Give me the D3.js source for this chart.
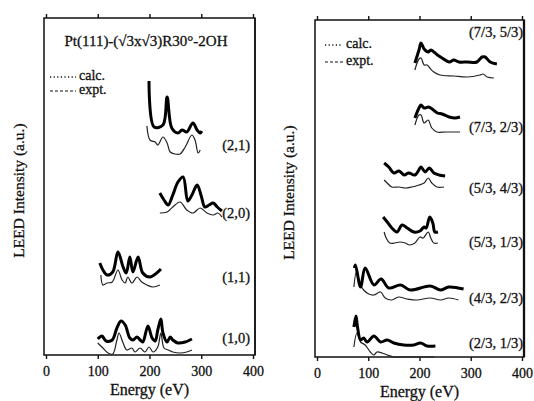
<!DOCTYPE html>
<html>
<head>
<meta charset="utf-8">
<script src="https://cdn.jsdelivr.net/npm/d3@7"></script>
<style>
  body { margin: 0; background: #fff; }
  text { font-family: "Liberation Serif", "DejaVu Serif", serif; fill: #111; stroke: #111; stroke-width: 0.3px; }
</style>
</head>
<body>
<div id="chart"></div>
<script>
// Energy ticks (eV)
const energyTicks = [0, 100, 200, 300, 400];

// Left panel: integer beams. thick = expt, thin = calc (stacked intensities, a.u.)
const b21E_expt = [199, 209, 226, 234, 243, 255, 263, 272, 284, 292, 298, 301];
const b21I_expt = [274, 228, 230, 258, 227, 222, 225, 223, 232, 225, 222, 224];
const b21E_calc = [195, 201, 211, 216, 226, 234, 240, 249, 259, 269, 282, 288, 294, 298];
const b21I_calc = [229, 215, 213, 210, 218, 212, 203, 201, 201, 208, 220, 215, 202, 205];

const b20E_expt = [220, 228, 236, 245, 255, 265, 274, 282, 292, 300, 307, 315, 323, 331, 340];
const b20I_expt = [162, 155, 150, 160, 173, 178, 154, 160, 170, 159, 148, 150, 152, 148, 144];
const b20E_calc = [220, 234, 245, 259, 272, 284, 298, 311, 323, 332, 340];
const b20I_calc = [142, 143, 148, 153, 145, 142, 147, 142, 140, 142, 138];

const b11E_expt = [104, 110, 118, 129, 139, 149, 155, 162, 168, 178, 187, 201, 214, 222];
const b11I_expt = [92, 85, 80, 83, 103, 88, 82, 98, 83, 98, 82, 78, 82, 86];
const b11E_calc = [106, 110, 118, 128, 139, 147, 153, 158, 166, 176, 185, 195, 207, 220];
const b11I_calc = [80, 70, 72, 73, 85, 75, 72, 78, 72, 78, 73, 70, 68, 70];

const b10E_expt = [100, 108, 116, 128, 137, 145, 153, 162, 168, 176, 182, 187, 197, 205, 211, 216, 222, 226, 234, 240, 245, 255, 269, 278, 282];
const b10I_expt = [16, 19, 14, 15, 27, 34, 30, 17, 15, 18, 15, 13, 29, 17, 14, 25, 36, 22, 13, 18, 15, 12, 13, 15, 16];
const b10E_calc = [100, 110, 120, 129, 137, 141, 149, 156, 166, 172, 182, 191, 199, 207, 216, 222, 228, 236, 245, 259, 272, 282];
const b10I_calc = [12, 7, 2, 1, 15, 22, 12, 5, 7, 3, 7, 3, 8, 3, 8, 22, 7, 5, 3, 2, 3, 5];

// Right panel: fractional-order beams
const f7353E_expt = [191, 199, 203, 209, 217, 222, 235, 244, 258, 267, 277, 293, 312, 322, 328, 338, 351];
const f7353I_expt = [294, 307, 314, 308, 305, 307, 302, 299, 295, 297, 295, 295, 295, 300, 300, 295, 293];
const f7353E_calc = [191, 199, 203, 209, 215, 220, 228, 240, 267, 293, 318, 324, 332, 345];
const f7353I_calc = [287, 298, 299, 292, 292, 289, 285, 282, 281, 280, 282, 283, 280, 279];

const f7323E_expt = [191, 199, 203, 209, 217, 222, 235, 244, 258, 269, 279];
const f7323I_expt = [239, 249, 252, 249, 250, 249, 244, 243, 240, 239, 240];
const f7323E_calc = [191, 199, 203, 209, 217, 224, 234, 251, 271, 279];
const f7323I_calc = [232, 242, 242, 234, 237, 229, 225, 225, 225, 225];

const f5343E_expt = [131, 140, 150, 160, 170, 179, 191, 201, 203, 211, 219, 228, 238, 250];
const f5343I_expt = [194, 190, 184, 186, 182, 184, 182, 189, 190, 185, 189, 184, 182, 181];
const f5343E_calc = [131, 137, 146, 160, 172, 185, 199, 209, 217, 224, 234, 248];
const f5343I_calc = [177, 174, 170, 170, 169, 170, 172, 174, 179, 174, 170, 170];

const f5313E_expt = [129, 137, 146, 156, 166, 176, 189, 201, 209, 213, 220, 226, 230, 236];
const f5313I_expt = [140, 135, 129, 125, 132, 129, 125, 126, 130, 129, 140, 134, 125, 125];
const f5313E_calc = [131, 135, 142, 152, 162, 172, 181, 191, 201, 207, 217, 222, 228, 236];
const f5313I_calc = [125, 119, 114, 114, 115, 114, 112, 114, 120, 119, 125, 119, 114, 114];

const f4323E_expt = [73, 75, 85, 94, 111, 125, 140, 163, 182, 221, 241, 257, 286];
const f4323I_expt = [89, 92, 70, 89, 72, 78, 69, 72, 67, 71, 67, 70, 68];
const f4323E_calc = [72, 77, 85, 91, 101, 111, 124, 133, 146, 159, 176, 195, 221, 241, 257, 276];
const f4323I_calc = [70, 85, 72, 67, 63, 62, 65, 59, 57, 60, 58, 57, 59, 57, 59, 57];

const f2313E_expt = [72, 76, 79, 85, 91, 98, 111, 124, 137, 150, 169, 189, 202, 215, 231];
const f2313I_expt = [30, 41, 30, 17, 19, 15, 21, 15, 17, 14, 12, 12, 14, 11, 11];
const f2313E_calc = [72, 78, 85, 94, 104, 111, 117, 127, 137, 150, 163, 228];
const f2313I_calc = [10, 24, 15, 12, 5, 2, 5, 4, 2, 0, 0, 0];

const leftBeams = ["(2,1)", "(2,0)", "(1,1)", "(1,0)"];
const rightBeams = ["(7/3, 5/3)", "(7/3, 2/3)", "(5/3, 4/3)", "(5/3, 1/3)", "(4/3, 2/3)", "(2/3, 1/3)"];

const width = 534, height = 401;

const svg = d3.select("#chart")
    .append("svg")
    .attr("width", width)
    .attr("height", height);

const pack = (E, I) => E.map((e, i) => ({ e: e, v: I[i] }));

const leftCurves = [
    [pack(b21E_expt, b21I_expt), pack(b21E_calc, b21I_calc)],
    [pack(b20E_expt, b20I_expt), pack(b20E_calc, b20I_calc)],
    [pack(b11E_expt, b11I_expt), pack(b11E_calc, b11I_calc)],
    [pack(b10E_expt, b10I_expt), pack(b10E_calc, b10I_calc)]
];
const rightCurves = [
    [pack(f7353E_expt, f7353I_expt), pack(f7353E_calc, f7353I_calc)],
    [pack(f7323E_expt, f7323I_expt), pack(f7323E_calc, f7323I_calc)],
    [pack(f5343E_expt, f5343I_expt), pack(f5343E_calc, f5343I_calc)],
    [pack(f5313E_expt, f5313I_expt), pack(f5313E_calc, f5313I_calc)],
    [pack(f4323E_expt, f4323I_expt), pack(f4323E_calc, f4323I_calc)],
    [pack(f2313E_expt, f2313I_expt), pack(f2313E_calc, f2313I_calc)]
];

// label heights in a.u. (layout only)
const leftLabelAt = [210, 142, 78, 17];
const rightLabelAt = [325, 230, 169, 115, 59, 14];

const drawPanel = (opt) => {
    const x = d3.scaleLinear().domain([0, 400]).range([opt.x0, opt.x1]);
    const y = d3.scaleLinear().domain([0, 337]).range([opt.bottom, opt.top]);
    const g = svg.append("g");

    // frame
    g.append("rect")
        .attr("x", opt.fx0).attr("y", opt.top)
        .attr("width", opt.fx1 - opt.fx0).attr("height", opt.bottom - opt.top)
        .attr("fill", "none").attr("stroke", "#111").attr("stroke-width", 1.5);
    g.append("line")
        .attr("x1", opt.fx1).attr("x2", opt.fx1)
        .attr("y1", opt.top).attr("y2", opt.bottom)
        .attr("stroke", "#111").attr("stroke-width", opt.rightW);

    const bottomAxis = g.append("g")
        .attr("transform", `translate(0, ${opt.bottom})`)
        .call(d3.axisBottom(x).tickValues(energyTicks).tickSize(4).tickPadding(7))
        .attr("font-family", null)
        .attr("font-size", null);
    bottomAxis.select(".domain").remove();
    bottomAxis.selectAll("text")
        .attr("font-size", 14)
        .attr("fill", "#111");
    bottomAxis.selectAll("line").attr("stroke", "#111").attr("stroke-width", 1.4);

    const topAxis = g.append("g")
        .attr("transform", `translate(0, ${opt.top})`)
        .call(d3.axisTop(x).tickValues(energyTicks).tickSize(4).tickFormat(""));
    topAxis.select(".domain").remove();
    topAxis.selectAll("line").attr("stroke", "#111").attr("stroke-width", 1.4);

    g.append("text")
        .attr("x", x(200)).attr("y", opt.bottom + 40)
        .attr("text-anchor", "middle")
        .attr("font-size", 16)
        .text("Energy (eV)");

    g.append("text")
        .attr("transform", `translate(${opt.ylabX}, ${(opt.top + opt.bottom) / 2 + 4}) rotate(-90)`)
        .attr("text-anchor", "middle")
        .attr("font-size", 15.5)
        .text("LEED Intensity (a.u.)");

    const line = d3.line()
        .x(d => x(d.e))
        .y(d => y(d.v))
        .curve(d3.curveCatmullRom);

    opt.curves.forEach((pair, i) => {
        g.append("path")
            .attr("d", line(pair[1]))
            .attr("fill", "none")
            .attr("stroke", "#222")
            .attr("stroke-width", 1.2);
        g.append("path")
            .attr("d", line(pair[0]))
            .attr("fill", "none")
            .attr("stroke", "#000")
            .attr("stroke-width", 3)
            .attr("stroke-linejoin", "round");
        g.append("text")
            .attr("x", opt.labelX)
            .attr("y", y(opt.labelAt[i]) + 5)
            .attr("text-anchor", "end")
            .attr("font-size", 14.5)
            .text(opt.names[i]);
    });

    // legend
    const lg = opt.legend;
    g.append("line")
        .attr("x1", lg.x).attr("x2", lg.x + lg.w)
        .attr("y1", lg.y).attr("y2", lg.y)
        .attr("stroke", "#111").attr("stroke-width", 1.4)
        .attr("stroke-dasharray", "1.2 2.4");
    g.append("text")
        .attr("x", lg.x + lg.w + 3).attr("y", lg.y + 3)
        .attr("font-size", 14)
        .text("calc.");
    g.append("line")
        .attr("x1", lg.x).attr("x2", lg.x + lg.w)
        .attr("y1", lg.y + lg.gap).attr("y2", lg.y + lg.gap)
        .attr("stroke", "#111").attr("stroke-width", 1.2)
        .attr("stroke-dasharray", "3 2");
    g.append("text")
        .attr("x", lg.x + lg.w + 3).attr("y", lg.y + lg.gap + 3)
        .attr("font-size", 14)
        .text("expt.");
};

drawPanel({
    x0: 46, x1: 253, fx0: 44, fx1: 255, top: 18, bottom: 355, rightW: 1.5,
    ylabX: 24, labelX: 250, curves: leftCurves, names: leftBeams, labelAt: leftLabelAt,
    legend: { x: 50, y: 77, w: 26, gap: 14 }
});

drawPanel({
    x0: 317, x1: 522, fx0: 315, fx1: 524, top: 20, bottom: 357, rightW: 2.3,
    ylabX: 294, labelX: 523, curves: rightCurves, names: rightBeams, labelAt: rightLabelAt,
    legend: { x: 325, y: 45, w: 18, gap: 17 }
});

svg.append("text")
    .attr("x", 146).attr("y", 46)
    .attr("text-anchor", "middle")
    .attr("font-size", 15)
    .text("Pt(111)-(√3x√3)R30°-2OH");
</script>
</body>
</html>
